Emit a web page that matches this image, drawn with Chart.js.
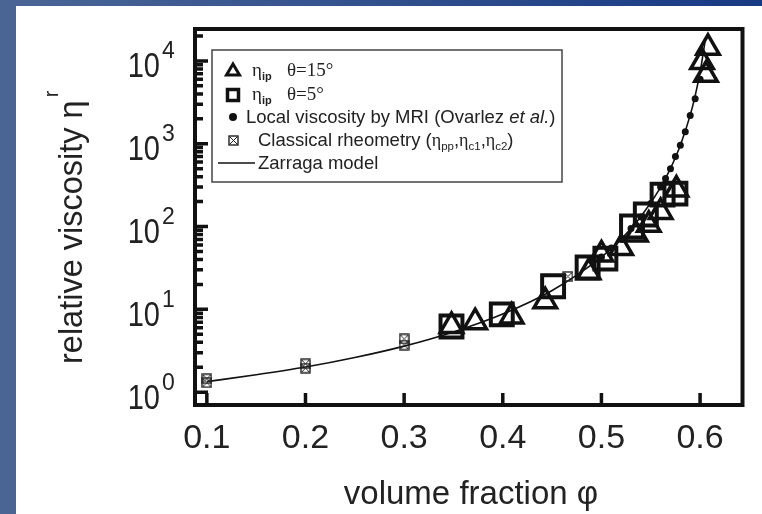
<!DOCTYPE html>
<html>
<head>
<meta charset="utf-8">
<script src="https://cdn.jsdelivr.net/npm/chart.js@4.4.0/dist/chart.umd.min.js"></script>
<style>
  html, body { margin: 0; padding: 0; background: #fff; }
</style>
</head>
<body>
<canvas id="viscChart" width="762" height="514"></canvas>
<script>
// --- data ---
const xTicks = [0.1, 0.2, 0.3, 0.4, 0.5, 0.6];
const yDecades = [1, 10, 100, 1000, 10000];
const yTickLabels = ['0', '1', '2', '3', '4'];   // exponents shown as 10^n

// Zarraga model curve
const modelPhi = [0.1, 0.15, 0.2, 0.25, 0.3, 0.35, 0.4, 0.45, 0.5, 0.52, 0.54, 0.56, 0.57, 0.58, 0.59, 0.595, 0.6, 0.605];
const modelEta = [1.34, 1.62, 2.01, 2.62, 3.6, 5.34, 8.78, 16.9, 42.8, 70.5, 132, 297, 503, 959, 2217, 3790, 7316, 17100];

// eta_ip, theta = 15 deg (open triangles)
const phi15 = [0.348, 0.372, 0.409, 0.443, 0.487, 0.50, 0.52, 0.535, 0.548, 0.56, 0.576, 0.602, 0.606, 0.608];
const eta15 = [6.3, 7.0, 8.2, 12.5, 28, 46, 55, 80, 105, 150, 280, 9700, 6800, 14400];

// eta_ip, theta = 5 deg (open squares)
const phi5 = [0.348, 0.399, 0.451, 0.486, 0.504, 0.531, 0.545, 0.562, 0.575];
const eta5 = [6.2, 8.7, 19, 32, 41, 100, 140, 243, 250];

// local viscosity by MRI (dots)
const phiMri = [0.50, 0.51, 0.52, 0.53, 0.54, 0.55, 0.56, 0.565, 0.57, 0.575, 0.58, 0.585, 0.59, 0.595, 0.60];
const etaMri = [43, 55, 70, 95, 130, 190, 300, 380, 500, 700, 960, 1400, 2200, 3500, 6000];

// classical rheometry (boxed crosses)
const phiRheo = [0.1, 0.1, 0.2, 0.2, 0.3, 0.3, 0.466];
const etaRheo = [1.3, 1.45, 1.95, 2.2, 3.7, 4.4, 25];

const INK = '#111';
const SANS = "'Liberation Sans', Arial, sans-serif";
const SERIF = "'Liberation Serif', 'DejaVu Serif', serif";

function toPoints(xs, ys) {
    return xs.map((x, i) => ({ x: x, y: ys[i] }));
}

// small square with an X for the rheometry points
function makeBoxCross(size) {
    const c = document.createElement('canvas');
    c.width = size;
    c.height = size;
    const g = c.getContext('2d');
    g.strokeStyle = '#222';
    g.lineWidth = 1.4;
    g.strokeRect(1, 1, size - 2, size - 2);
    g.lineWidth = 1;
    g.beginPath();
    g.moveTo(2, 2); g.lineTo(size - 2, size - 2);
    g.moveTo(size - 2, 2); g.lineTo(2, size - 2);
    g.stroke();
    return c;
}
const boxCross = makeBoxCross(11);

// white page with the blue slide border
const backgroundPlugin = {
    id: 'background',
    beforeDraw(chart) {
        const ctx = chart.ctx;
        ctx.save();
        ctx.fillStyle = '#fff';
        ctx.fillRect(0, 0, chart.width, chart.height);
        const grad = ctx.createLinearGradient(0, 0, chart.width, 0);
        grad.addColorStop(0, '#4b6595');
        grad.addColorStop(1, '#173a84');
        ctx.fillStyle = grad;
        ctx.fillRect(0, 0, chart.width, 6);
        ctx.fillStyle = '#4a6494';
        ctx.fillRect(0, 0, 16, chart.height);
        ctx.restore();
    }
};

function drawSubText(ctx, x, y, parts) {
    // parts: [text, font, dy]
    for (const p of parts) {
        ctx.font = p[1];
        ctx.fillText(p[0], x, y + (p[2] || 0));
        x += ctx.measureText(p[0]).width;
    }
    return x;
}

const framePlugin = {
    id: 'frame',
    afterDraw(chart) {
        const ctx = chart.ctx;
        const a = chart.chartArea;
        const xs = chart.scales.x;
        const ys = chart.scales.y;
        ctx.save();
        ctx.strokeStyle = INK;
        ctx.lineCap = 'butt';

        // inward ticks
        ctx.lineWidth = 3.5;
        ctx.beginPath();
        xTicks.forEach(v => {
            const px = xs.getPixelForValue(v);
            ctx.moveTo(px, a.bottom);
            ctx.lineTo(px, a.bottom - 12);
        });
        yDecades.forEach(v => {
            const py = ys.getPixelForValue(v);
            ctx.moveTo(a.left, py);
            ctx.lineTo(a.left + 13, py);
            for (let m = 2; m <= 9; m++) {
                const mv = v * m;
                if (mv > ys.max) break;
                const my = ys.getPixelForValue(mv);
                ctx.moveTo(a.left, my);
                ctx.lineTo(a.left + 8, my);
            }
        });
        ctx.stroke();

        // frame
        ctx.lineWidth = 4;
        ctx.strokeRect(a.left, a.top, a.right - a.left, a.bottom - a.top);

        // y tick labels 10^n (slightly condensed like the original)
        ctx.fillStyle = '#222';
        ctx.textBaseline = 'middle';
        yDecades.forEach((v, i) => {
            const py = ys.getPixelForValue(v);
            ctx.save();
            ctx.translate(160, py + 7);
            ctx.scale(0.88, 1.05);
            ctx.textAlign = 'right';
            ctx.font = '33px ' + SANS;
            ctx.fillText('10', 0, 0);
            ctx.restore();
            ctx.textAlign = 'left';
            ctx.font = '23px ' + SANS;
            ctx.fillText(yTickLabels[i], 162, py - 9);
        });

        // axis titles
        ctx.textBaseline = 'alphabetic';
        ctx.textAlign = 'center';
        ctx.font = '33px ' + SANS;
        ctx.fillText('volume fraction \u03c6', 471, 504);

        ctx.save();
        ctx.translate(82, 364);
        ctx.rotate(-Math.PI / 2);
        ctx.textAlign = 'left';
        ctx.font = '32.5px ' + SANS;
        const main = 'relative viscosity \u03b7';
        ctx.fillText(main, 0, 0);
        const w = ctx.measureText(main).width;
        ctx.font = '20px ' + SANS;
        ctx.fillText('r', w + 3, -24);
        ctx.restore();

        // legend box
        ctx.lineWidth = 1.5;
        ctx.strokeStyle = '#444';
        ctx.strokeRect(212, 50, 350, 132);

        ctx.strokeStyle = INK;
        ctx.fillStyle = INK;
        // triangle
        ctx.lineWidth = 3;
        ctx.beginPath();
        ctx.moveTo(233, 64); ctx.lineTo(239.5, 75); ctx.lineTo(226.5, 75); ctx.closePath();
        ctx.stroke();
        // square
        ctx.lineWidth = 3.5;
        ctx.strokeRect(227.5, 89.5, 11, 11);
        // dot
        ctx.beginPath();
        ctx.arc(233, 117, 4, 0, Math.PI * 2);
        ctx.fill();
        // box cross
        ctx.drawImage(boxCross, 228, 135);
        // line
        ctx.lineWidth = 1.6;
        ctx.beginPath();
        ctx.moveTo(218, 163); ctx.lineTo(255, 163);
        ctx.stroke();

        ctx.fillStyle = '#222';
        ctx.textAlign = 'left';
        const serif = '19px ' + SERIF;
        const sub = 'bold 11px ' + SANS;
        drawSubText(ctx, 252, 76, [['\u03b7', serif], ['ip', sub, 4]]);
        drawSubText(ctx, 287, 76, [['\u03b8=15\u00b0', serif]]);
        drawSubText(ctx, 252, 100, [['\u03b7', serif], ['ip', sub, 4]]);
        drawSubText(ctx, 287, 100, [['\u03b8=5\u00b0', serif]]);
        const f = '18.5px ' + SANS;
        drawSubText(ctx, 246, 123, [['Local viscosity by MRI (Ovarlez ', f], ['et al.', 'italic 18.5px ' + SANS], [')', f]]);
        const s = '11.5px ' + SANS;
        const eta = '18px ' + SERIF;
        drawSubText(ctx, 258, 146, [['Classical rheometry (', f], ['\u03b7', eta], ['pp', s, 4], [',', f],
            ['\u03b7', eta], ['c1', s, 4], [',', f], ['\u03b7', eta], ['c2', s, 4], [')', f]]);
        drawSubText(ctx, 258, 169, [['Zarraga model', f]]);
        ctx.restore();
    }
};

const viscChart = new Chart(document.getElementById('viscChart').getContext('2d'), {
    type: 'scatter',
    data: {
        datasets: [
            {
                label: 'Classical rheometry',
                data: toPoints(phiRheo, etaRheo),
                pointStyle: boxCross,
                pointRadius: 5.5
            },
            {
                label: 'Local viscosity by MRI',
                data: toPoints(phiMri, etaMri),
                pointStyle: 'circle',
                pointRadius: 3.5,
                backgroundColor: INK,
                borderWidth: 0
            },
            {
                label: 'eta_ip 15deg',
                data: toPoints(phi15, eta15),
                pointStyle: 'triangle',
                pointRadius: 13,
                borderColor: INK,
                borderWidth: 3.5,
                backgroundColor: 'rgba(0,0,0,0)'
            },
            {
                label: 'eta_ip 5deg',
                data: toPoints(phi5, eta5),
                pointStyle: 'rect',
                pointRadius: 15.5,
                borderColor: INK,
                borderWidth: 4,
                backgroundColor: 'rgba(0,0,0,0)'
            },
            {
                label: 'Zarraga model',
                type: 'line',
                data: toPoints(modelPhi, modelEta),
                borderColor: INK,
                borderWidth: 1.6,
                pointRadius: 0,
                fill: false,
                cubicInterpolationMode: 'monotone'
            }
        ]
    },
    options: {
        responsive: false,
        animation: false,
        events: [],
        layout: { padding: { left: 0, right: 13, top: 29, bottom: 0 } },
        plugins: {
            legend: { display: false },
            tooltip: { enabled: false }
        },
        scales: {
            x: {
                type: 'linear',
                min: 0.088,
                max: 0.643,
                afterBuildTicks: s => { s.ticks = xTicks.map(v => ({ value: v })); },
                afterFit: s => { s.height = 109; },
                grid: { display: false, drawTicks: false },
                border: { display: false },
                ticks: {
                    color: '#222',
                    padding: 13,
                    autoSkip: false,
                    maxRotation: 0,
                    font: { family: SANS, size: 34 },
                    callback: v => Number(v).toFixed(1)
                }
            },
            y: {
                type: 'logarithmic',
                min: 0.717,
                max: 24300,
                afterBuildTicks: s => { s.ticks = yDecades.map(v => ({ value: v })); },
                afterFit: s => { s.width = 195; },
                grid: { display: false, drawTicks: false },
                border: { display: false },
                ticks: { display: false }
            }
        }
    },
    plugins: [backgroundPlugin, framePlugin]
});
</script>
</body>
</html>
